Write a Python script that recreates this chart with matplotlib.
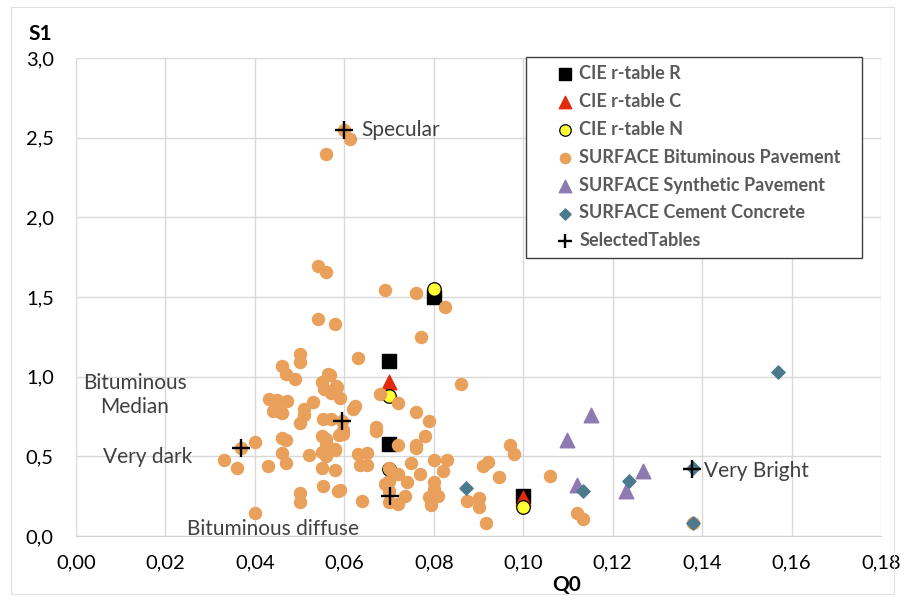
import matplotlib
matplotlib.use("Agg")
import matplotlib.pyplot as plt
from matplotlib.patches import Rectangle

plt.rcParams['font.family'] = ['Lato', 'DejaVu Sans']

# CIE r-tables
cie_r_q0 = [0.100, 0.070, 0.070, 0.080]
cie_r_s1 = [0.25, 0.58, 1.10, 1.50]
cie_c_q0 = [0.100, 0.070]
cie_c_s1 = [0.24, 0.97]
cie_n_q0 = [0.100, 0.070, 0.070, 0.080]
cie_n_s1 = [0.18, 0.42, 0.88, 1.55]

# SURFACE Bituminous Pavement
bit_q0 = [0.0612, 0.0600, 0.0559, 0.0541, 0.0559, 0.0691, 0.0761, 0.0826, 0.0541, 0.0579,
          0.0772, 0.0631, 0.0568, 0.0582, 0.0861, 0.0501, 0.0501, 0.0461, 0.0470, 0.0490,
          0.0564, 0.0550, 0.0555, 0.0570, 0.0432, 0.0450, 0.0472, 0.0440, 0.0456, 0.0460,
          0.0510, 0.0510, 0.0530, 0.0500, 0.0553, 0.0570, 0.0595, 0.0550, 0.0560, 0.0560,
          0.0580, 0.0550, 0.0560, 0.0460, 0.0470, 0.0460, 0.0470, 0.0430, 0.0400, 0.0370,
          0.0331, 0.0360, 0.0520, 0.0550, 0.0553, 0.0500, 0.0500, 0.0400, 0.0586, 0.0584,
          0.0590, 0.0620, 0.0624, 0.0680, 0.0720, 0.0760, 0.0790, 0.0780, 0.0670, 0.0670,
          0.0598, 0.0589, 0.0580, 0.0720, 0.0760, 0.0760, 0.0630, 0.0650, 0.0636, 0.0650,
          0.0580, 0.0750, 0.0770, 0.0800, 0.0830, 0.0820, 0.0700, 0.0720, 0.0740, 0.0700,
          0.0690, 0.0590, 0.0640, 0.0700, 0.0700, 0.0720, 0.0736, 0.0800, 0.0800, 0.0810,
          0.0794, 0.0800, 0.0790, 0.0971, 0.0980, 0.0922, 0.0910, 0.0945, 0.1060, 0.0875,
          0.0900, 0.0900, 0.0917, 0.1120, 0.1134, 0.1380, 0.0598]
bit_s1 = [2.49, 2.55, 2.40, 1.695, 1.66, 1.545, 1.525, 1.44, 1.36, 1.33,
          1.25, 1.117, 1.01, 0.94, 0.955, 1.14, 1.09, 1.07, 1.02, 0.985,
          1.02, 0.97, 0.92, 0.90, 0.86, 0.855, 0.85, 0.785, 0.78, 0.77,
          0.80, 0.76, 0.84, 0.71, 0.735, 0.735, 0.72, 0.63, 0.61, 0.585,
          0.545, 0.53, 0.50, 0.615, 0.60, 0.52, 0.46, 0.44, 0.59, 0.555,
          0.48, 0.425, 0.51, 0.425, 0.315, 0.27, 0.215, 0.145, 0.28, 0.935,
          0.865, 0.80, 0.815, 0.89, 0.835, 0.78, 0.72, 0.63, 0.685, 0.66,
          0.64, 0.635, 0.54, 0.57, 0.57, 0.55, 0.515, 0.52, 0.445, 0.445,
          0.415, 0.46, 0.39, 0.48, 0.48, 0.41, 0.43, 0.39, 0.34, 0.345,
          0.33, 0.29, 0.22, 0.28, 0.215, 0.20, 0.25, 0.34, 0.295, 0.25,
          0.195, 0.27, 0.245, 0.57, 0.515, 0.465, 0.44, 0.37, 0.376, 0.22,
          0.24, 0.18, 0.08, 0.145, 0.105, 0.08, 0.665]

# SURFACE Synthetic Pavement
syn_q0 = [0.1098, 0.1152, 0.1120, 0.1268, 0.1230]
syn_s1 = [0.60, 0.76, 0.32, 0.41, 0.28]

# SURFACE Cement Concrete
cem_q0 = [0.0873, 0.1134, 0.1237, 0.1380, 0.1380, 0.1570]
cem_s1 = [0.30, 0.28, 0.345, 0.08, 0.43, 1.03]

# SelectedTables
sel_q0 = [0.0600, 0.0369, 0.0595, 0.0702, 0.1378]
sel_s1 = [2.55, 0.555, 0.72, 0.25, 0.42]

labels = ["Specular", "Bituminous\nMedian", "Very dark", "Bituminous diffuse", "Very Bright"]

fig = plt.figure(figsize=(9.05, 6.01), dpi=100)
ax = fig.add_axes([0.084, 0.108, 0.8895, 0.7955])

ax.scatter(cie_r_q0, cie_r_s1, marker='s', s=105, c='black', label='CIE r-table R', zorder=3)
ax.scatter(cie_c_q0, cie_c_s1, marker='^', s=110, c='#E02A0A', label='CIE r-table C', zorder=4)
ax.scatter(cie_n_q0, cie_n_s1, marker='o', s=95, c='#FFFF33', edgecolors='black',
           linewidths=0.9, label='CIE r-table N', zorder=5)
ax.scatter(bit_q0, bit_s1, marker='o', s=75, c='#E8A05A', label='SURFACE Bituminous Pavement', zorder=6)
ax.scatter(syn_q0, syn_s1, marker='^', s=110, c='#8C7AB0', label='SURFACE Synthetic Pavement', zorder=7)
ax.scatter(cem_q0, cem_s1, marker='D', s=45, c='#4A7A8C', label='SURFACE Cement Concrete', zorder=8)
ax.scatter(sel_q0, sel_s1, marker='+', s=160, c='black', linewidths=1.7, label='SelectedTables', zorder=9)

txt = dict(fontsize=15, color='#404040')
ax.text(0.0638, 2.55, labels[0], ha='left', va='center', **txt)
ax.text(0.0131, 0.885, labels[1], ha='center', va='center', linespacing=1.25, **txt)
ax.text(0.0159, 0.496, labels[2], ha='center', va='center', **txt)
ax.text(0.0441, 0.046, labels[3], ha='center', va='center', **txt)
ax.text(0.1405, 0.41, labels[4], ha='left', va='center', **txt)

ax.set_xlim(0, 0.18)
ax.set_ylim(0, 3.0)
ax.set_xticks([i * 0.02 for i in range(10)])
ax.set_yticks([i * 0.5 for i in range(7)])
ax.set_xticklabels([f"{i * 0.02:.2f}".replace('.', ',') for i in range(10)])
ax.set_yticklabels([f"{i * 0.5:.1f}".replace('.', ',') for i in range(7)])
ax.tick_params(length=0, labelsize=14.5, labelcolor='black')
ax.tick_params(axis='x', pad=13)
ax.tick_params(axis='y', pad=16)
ax.grid(True, color='#D9D9D9', linewidth=1)
ax.set_axisbelow(True)
for side in ['top', 'right', 'left']:
    ax.spines[side].set_visible(False)
ax.spines['bottom'].set_color('#D0D0D0')

fig.text(0.045, 0.943, "S1", fontsize=15, fontweight='bold', ha='center', va='center')
fig.text(0.626, 0.027, "Q0", fontsize=15, fontweight='bold', ha='center', va='center')

# legend without its own frame; frame drawn as a separate box
leg = ax.legend(loc='upper left', bbox_to_anchor=(0.596, 0.985), frameon=False,
                handletextpad=0.3, labelspacing=0.6, borderpad=0, markerscale=0.85,
                handlelength=1.0, prop={'size': 13, 'weight': 'bold'}, borderaxespad=0)
for t in leg.get_texts():
    t.set_color('#595959')
leg.set_zorder(11)
ax.add_patch(Rectangle((0.559, 0.582), 0.417, 0.42, transform=ax.transAxes, clip_on=False,
                       facecolor='white', edgecolor='#404040', linewidth=1.0, zorder=10))

fig.patches.append(Rectangle((0.012, 0.012), 0.976, 0.976, transform=fig.transFigure,
                             fill=False, edgecolor='#E0E0E0', linewidth=0.8))

fig.savefig("out.png", dpi=100)
